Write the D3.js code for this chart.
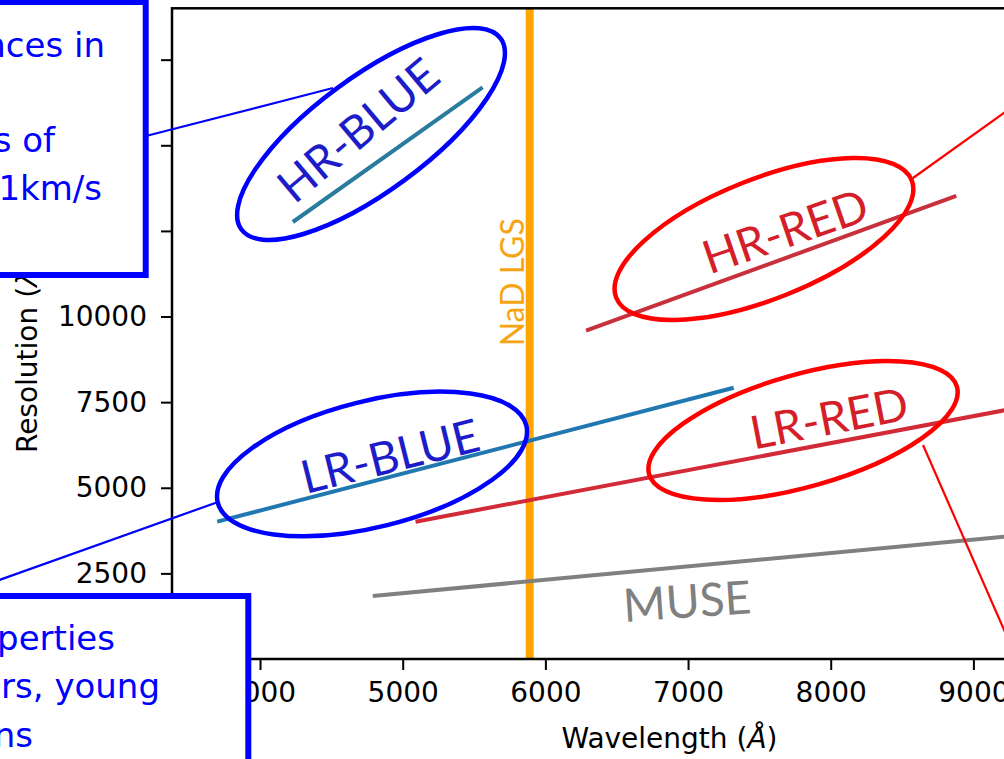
<!DOCTYPE html>
<html>
<head>
<meta charset="utf-8">
<script src="https://cdn.jsdelivr.net/npm/d3@7"></script>
<style>
  html, body { margin: 0; padding: 0; background: #fff; }
  svg { display: block; }
</style>
</head>
<body>
<svg id="chart" width="1004" height="759"></svg>
<script>
// Spectral coverage of each observing mode: wavelength (Å) and resolving power at both ends
const modes           = ["HR-BLUE", "HR-RED", "LR-BLUE", "LR-RED", "MUSE"];
const wavelengthStart = [4230, 6285, 3700, 5090, 4790];
const wavelengthEnd   = [5560, 8880, 7320, 10040, 9300];
const resolutionStart = [12760, 9590, 4010, 4010, 1840];
const resolutionEnd   = [16690, 13520, 7920, 7910, 3600];

// Sodium laser guide star wavelength (Å)
const nadWavelength = 5890;

// Axis ticks
const xTicks = [4000, 5000, 6000, 7000, 8000, 9000, 10000];
const yTicks = [0, 2500, 5000, 7500, 10000, 12500, 15000, 17500];

// ---------------------------------------------------------------------------
const W = 1004, H = 759;
const plotLeft = 172, plotRight = 1167, plotTop = 8.3, plotBottom = 659;

const x = d3.scaleLinear().domain([3383, 10357]).range([plotLeft, plotRight]);
const y = d3.scaleLinear().domain([0, 19000]).range([plotBottom, plotTop]);

const modeColor = {
  "HR-BLUE": "#2a7c9e",
  "LR-BLUE": "#2178b0",
  "HR-RED":  "#c8303c",
  "LR-RED":  "#d22a36",
  "MUSE":    "#808080"
};
const labelColor = {
  "HR-BLUE": "#1c1cc8",
  "LR-BLUE": "#1c1cc8",
  "HR-RED":  "#d41e2a",
  "LR-RED":  "#d41e2a",
  "MUSE":    "#808080"
};

const svg = d3.select("#chart");
svg.append("rect").attr("width", W).attr("height", H).attr("fill", "#fff");

svg.append("defs").append("clipPath").attr("id", "plotArea")
  .append("rect")
  .attr("x", plotLeft).attr("y", plotTop)
  .attr("width", plotRight - plotLeft).attr("height", plotBottom - plotTop);

const plot = svg.append("g").attr("clip-path", "url(#plotArea)");

// NaD LGS wavelength
plot.append("line")
  .attr("x1", x(nadWavelength)).attr("x2", x(nadWavelength))
  .attr("y1", plotTop).attr("y2", plotBottom)
  .attr("stroke", "#ffa500").attr("stroke-width", 8);

// Resolution vs wavelength of each mode
const lineData = modes.map((m, i) => ({
  mode: m,
  pts: [[wavelengthStart[i], resolutionStart[i]], [wavelengthEnd[i], resolutionEnd[i]]]
}));
const lineGen = d3.line().x(d => x(d[0])).y(d => y(d[1]));
plot.selectAll("path.mode").data(lineData).join("path")
  .attr("class", "mode")
  .attr("d", d => lineGen(d.pts))
  .attr("fill", "none")
  .attr("stroke", d => modeColor[d.mode])
  .attr("stroke-width", 4);

// Mode labels, placed in data space with rotation along each track
const modeLabels = [
  { mode: "HR-BLUE", w: 4687, r: 15447, rot: -40 },
  { mode: "HR-RED",  w: 7680, r: 12497, rot: -19 },
  { mode: "LR-BLUE", w: 4911, r: 5928,  rot: -14 },
  { mode: "LR-RED",  w: 7988, r: 7037,  rot: -11 },
  { mode: "MUSE",    w: 6993, r: 1694,  rot: -4 }
];
plot.selectAll("text.modeLabel").data(modeLabels).join("text")
  .attr("class", "modeLabel")
  .attr("transform", d => `translate(${x(d.w)},${y(d.r)}) rotate(${d.rot})`)
  .attr("text-anchor", "middle")
  .attr("dy", "0.36em")
  .attr("font-family", "Lato, sans-serif")
  .attr("font-size", 46)
  .attr("fill", d => labelColor[d.mode])
  .text(d => d.mode);

plot.append("text")
  .attr("transform", `translate(${x(nadWavelength) - 6},${y(11000)}) rotate(-90)`)
  .attr("text-anchor", "middle")
  .attr("font-family", "Lato, sans-serif")
  .attr("font-size", 32)
  .attr("fill", "#f5a514")
  .text("NaD LGS");

// Axes
const tickFont = "DejaVu Sans, sans-serif";
const gx = svg.append("g")
  .attr("transform", `translate(0,${plotBottom})`)
  .call(d3.axisBottom(x).tickValues(xTicks).tickFormat(d3.format("d"))
    .tickSize(11).tickSizeOuter(0).tickPadding(12));
const gy = svg.append("g")
  .attr("transform", `translate(${plotLeft},0)`)
  .call(d3.axisLeft(y).tickValues(yTicks).tickFormat(d3.format("d"))
    .tickSize(11).tickSizeOuter(0).tickPadding(14));
[gx, gy].forEach(g => {
  g.select(".domain").remove();
  g.selectAll(".tick line").attr("stroke", "#000").attr("stroke-width", 2);
  g.selectAll(".tick text").attr("font-family", tickFont).attr("font-size", 28).attr("fill", "#000");
});

// Axes frame
svg.append("rect")
  .attr("x", plotLeft).attr("y", plotTop)
  .attr("width", plotRight - plotLeft).attr("height", plotBottom - plotTop)
  .attr("fill", "none").attr("stroke", "#000").attr("stroke-width", 2.5);

// Axis titles
const xt = svg.append("text")
  .attr("x", (plotLeft + plotRight) / 2).attr("y", 748)
  .attr("text-anchor", "middle")
  .attr("font-family", tickFont).attr("font-size", 28).attr("fill", "#000");
xt.append("tspan").text("Wavelength (");
xt.append("tspan").attr("font-style", "italic").text("Å");
xt.append("tspan").text(")");

const yt = svg.append("text")
  .attr("transform", `translate(37,${(plotTop + plotBottom) / 2}) rotate(-90)`)
  .attr("text-anchor", "middle")
  .attr("font-family", tickFont).attr("font-size", 28).attr("fill", "#000");
yt.append("tspan").text("Resolution (");
yt.append("tspan").attr("font-style", "italic").text("λ");
yt.append("tspan").text("/Δ");
yt.append("tspan").attr("font-style", "italic").text("λ");
yt.append("tspan").text(")");

// Callout ellipses around each spectrograph mode
const rings = [
  { w: 4778, r: 15330, rx: 161, ry: 57, rot: -36.4, color: "#0000ff" },
  { w: 7532, r: 12264, rx: 159, ry: 60, rot: -21.7, color: "#ff0000" },
  { w: 4785, r: 5694,  rx: 159, ry: 63, rot: -14,   color: "#0000ff" },
  { w: 7806, r: 6672,  rx: 160, ry: 56, rot: -15.9, color: "#ff0000" }
];
const overlay = svg.append("g");
overlay.selectAll("ellipse").data(rings).join("ellipse")
  .attr("transform", d => `translate(${x(d.w)},${y(d.r)}) rotate(${d.rot})`)
  .attr("rx", d => d.rx).attr("ry", d => d.ry)
  .attr("fill", "none").attr("stroke", d => d.color).attr("stroke-width", 4.5);

// Leader lines from the ellipses to the science-case boxes
const leaders = [
  { x1: 146, y1: 136, x2: 333, y2: 88,  color: "#0000ff" },
  { x1: -40, y1: 594, x2: 218, y2: 502, color: "#0000ff" },
  { x1: 913, y1: 178, x2: 1100, y2: 44, color: "#ff0000" },
  { x1: 923, y1: 445, x2: 1040, y2: 712, color: "#ff0000" }
];
overlay.selectAll("line").data(leaders).join("line")
  .attr("x1", d => d.x1).attr("y1", d => d.y1)
  .attr("x2", d => d.x2).attr("y2", d => d.y2)
  .attr("stroke", d => d.color).attr("stroke-width", 2.2);

// Science-case boxes
const boxes = [
  { x: -20, y: 2,   w: 165.7, h: 273,
    lines: [["nces in", 105, 57], ["s of", 55, 152], ["1km/s", 102, 200]] },
  { x: -20, y: 596, w: 268.3, h: 220,
    lines: [["perties", 115, 650], ["rs, young", 160, 698], ["ns", 33, 747]] }
];
boxes.forEach(b => {
  overlay.append("rect")
    .attr("x", b.x).attr("y", b.y).attr("width", b.w).attr("height", b.h)
    .attr("fill", "#fff").attr("stroke", "#0000ff").attr("stroke-width", 6);
  b.lines.forEach(([t, tx, ty]) => {
    overlay.append("text")
      .attr("x", tx).attr("y", ty)
      .attr("text-anchor", "end")
      .attr("font-family", "DejaVu Sans, sans-serif")
      .attr("font-size", 34)
      .attr("fill", "#0000ff")
      .text(t);
  });
});
</script>
</body>
</html>
